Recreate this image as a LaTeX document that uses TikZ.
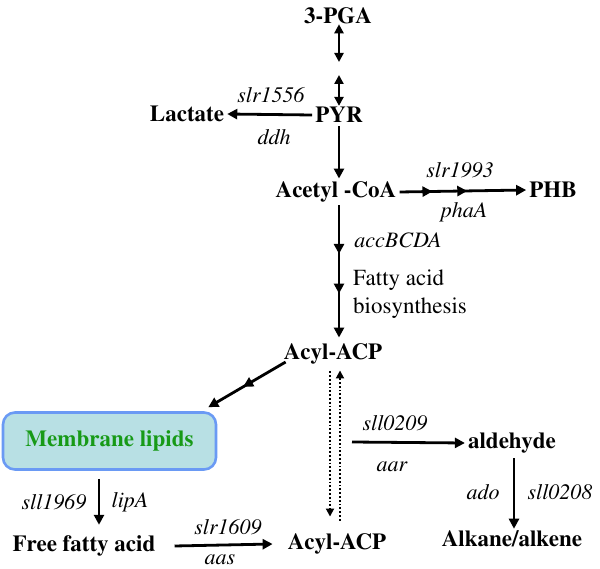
\documentclass[tikz,border=0pt]{standalone}
\usepackage[T1]{fontenc}
\usepackage{mathptmx}
\usetikzlibrary{arrows.meta, decorations.markings, calc}

\definecolor{boxfill}{HTML}{B8E0E4}
\definecolor{boxline}{HTML}{6A9AF4}
\definecolor{lipidgreen}{HTML}{179A17}

\tikzset{
    met/.style={font=\fontsize{23}{26}\selectfont\bfseries, inner sep=3pt},
    gene/.style={font=\fontsize{22}{26}\selectfont\itshape, inner sep=0pt},
    arr/.style={line width=2.8pt, -{Triangle[length=10pt, width=10pt]}},
    dbl/.style={line width=2.6pt, {Triangle[length=9pt, width=9pt]}-{Triangle[length=9pt, width=9pt]}},
    dots/.style={line width=1.8pt, dotted, -{Triangle[length=8pt, width=8pt]}},
    midarr/.style 2 args={postaction={decorate}, decoration={markings,
        mark=at position #1 with {\arrow{Triangle[length=10pt, width=10pt]}},
        mark=at position #2 with {\arrow{Triangle[length=10pt, width=10pt]}}}},
    onearr/.style={postaction={decorate}, decoration={markings,
        mark=at position #1 with {\arrow{Triangle[length=10pt, width=10pt]}}}}
}

\begin{document}
\begin{tikzpicture}[x=1pt, y=-1pt]
        \useasboundingbox (0, 0) rectangle (600, 569);
        % metabolites
        \node[met] (pga) at (338, 16) {3-PGA};
        \node[met] (pyr) at (339, 115) {PYR};
        \node[met] (lac) at (187, 114) {Lactate};
        \node[met] (acoa) at (336, 192) {Acetyl -CoA};
        \node[met] (phb) at (553, 190) {PHB};
        \node[met] (acp) at (333, 354) {Acyl-ACP};
        \node[met] (ffa) at (84, 546) {Free fatty acid};
        \node[met] (acp2) at (337, 544) {Acyl-ACP};
        \node[met] (ald) at (512, 443) {aldehyde};
        \node[met] (alk) at (512, 539) {Alkane/alkene};
        \node[met, draw=boxline, fill=boxfill, line width=2.6pt, rounded corners=12pt,
              minimum width=213pt, minimum height=57pt, text=lipidgreen] (mem) at (109.5, 441) {Membrane lipids};
        \node[met, anchor=west, align=left, font=\fontsize{23}{28}\selectfont] (fab) at (350, 294) {Fatty acid\\biosynthesis};
        \coordinate (m1) at (339, 62);
        \coordinate (m2) at (339, 75);
        \coordinate (fork) at (352, 442);

        % connectors
        \draw[dbl] (pga.south -| m1) ++(0, -3) -- (m1);
        \draw[dbl] (m2) -- ($(pyr.north) + (0, 2)$);
        \draw[arr] (pyr.west) -- (lac.east);
        \draw[arr] (pyr.south) -- (pyr.south |- acoa.north);
        \draw[arr, midarr={0.26}{0.535}] (acoa.east) -- (phb.west);
        \draw[arr, midarr={0.367}{0.667}] (pyr.south |- acoa.south) -- ($(pyr.south |- acp.north) + (0, -3)$);
        \draw[arr, onearr=0.55] ($(acp.west) + (5, 8)$) -- ($(mem.north east) + (-9, -4)$);
        \draw[arr] (mem.south -| 99, 0) ++(0, 8) -- ($(mem.south -| 99, 0) + (0, 54)$);
        \draw[arr] ($(ffa.east) + (16, 0)$) -- ($(acp2.west) + (-12, 0)$);
        \draw[dots] ($(acp.south) + (-3, 4)$) -- ($(acp2.north) + (-7, -14)$);
        \draw[dots] ($(acp2.north) + (3, -10)$) -- ($(acp.south) + (7, 3)$);
        \draw[arr] (fork) -- (ald.west);
        \draw[arr] ($(ald.south) + (2, 2)$) -- ($(alk.north) + (2, 1)$);

        % enzymes
        \node[gene] (g1556) at (271, 95) {slr1556};
        \node[gene] (gddh) at (274, 137) {ddh};
        \node[gene] (g1993) at (460, 170) {slr1993};
        \node[gene] (gpha) at (464, 212) {phaA};
        \node[gene] (gacc) at (398, 240) {accBCDA};
        \node[gene] (g1969) at (54, 502) {sll1969};
        \node[gene] (glip) at (130, 502) {lipA};
        \node[gene] (g1609) at (228, 527) {slr1609};
        \node[gene] (gaas) at (220, 560) {aas};
        \node[gene] (g0209) at (395, 423) {sll0209};
        \node[gene] (gaar) at (392, 467) {aar};
        \node[gene] (gado) at (483, 492) {ado};
        \node[gene] (g0208) at (560, 492) {sll0208};
    \end{tikzpicture}
\end{document}
